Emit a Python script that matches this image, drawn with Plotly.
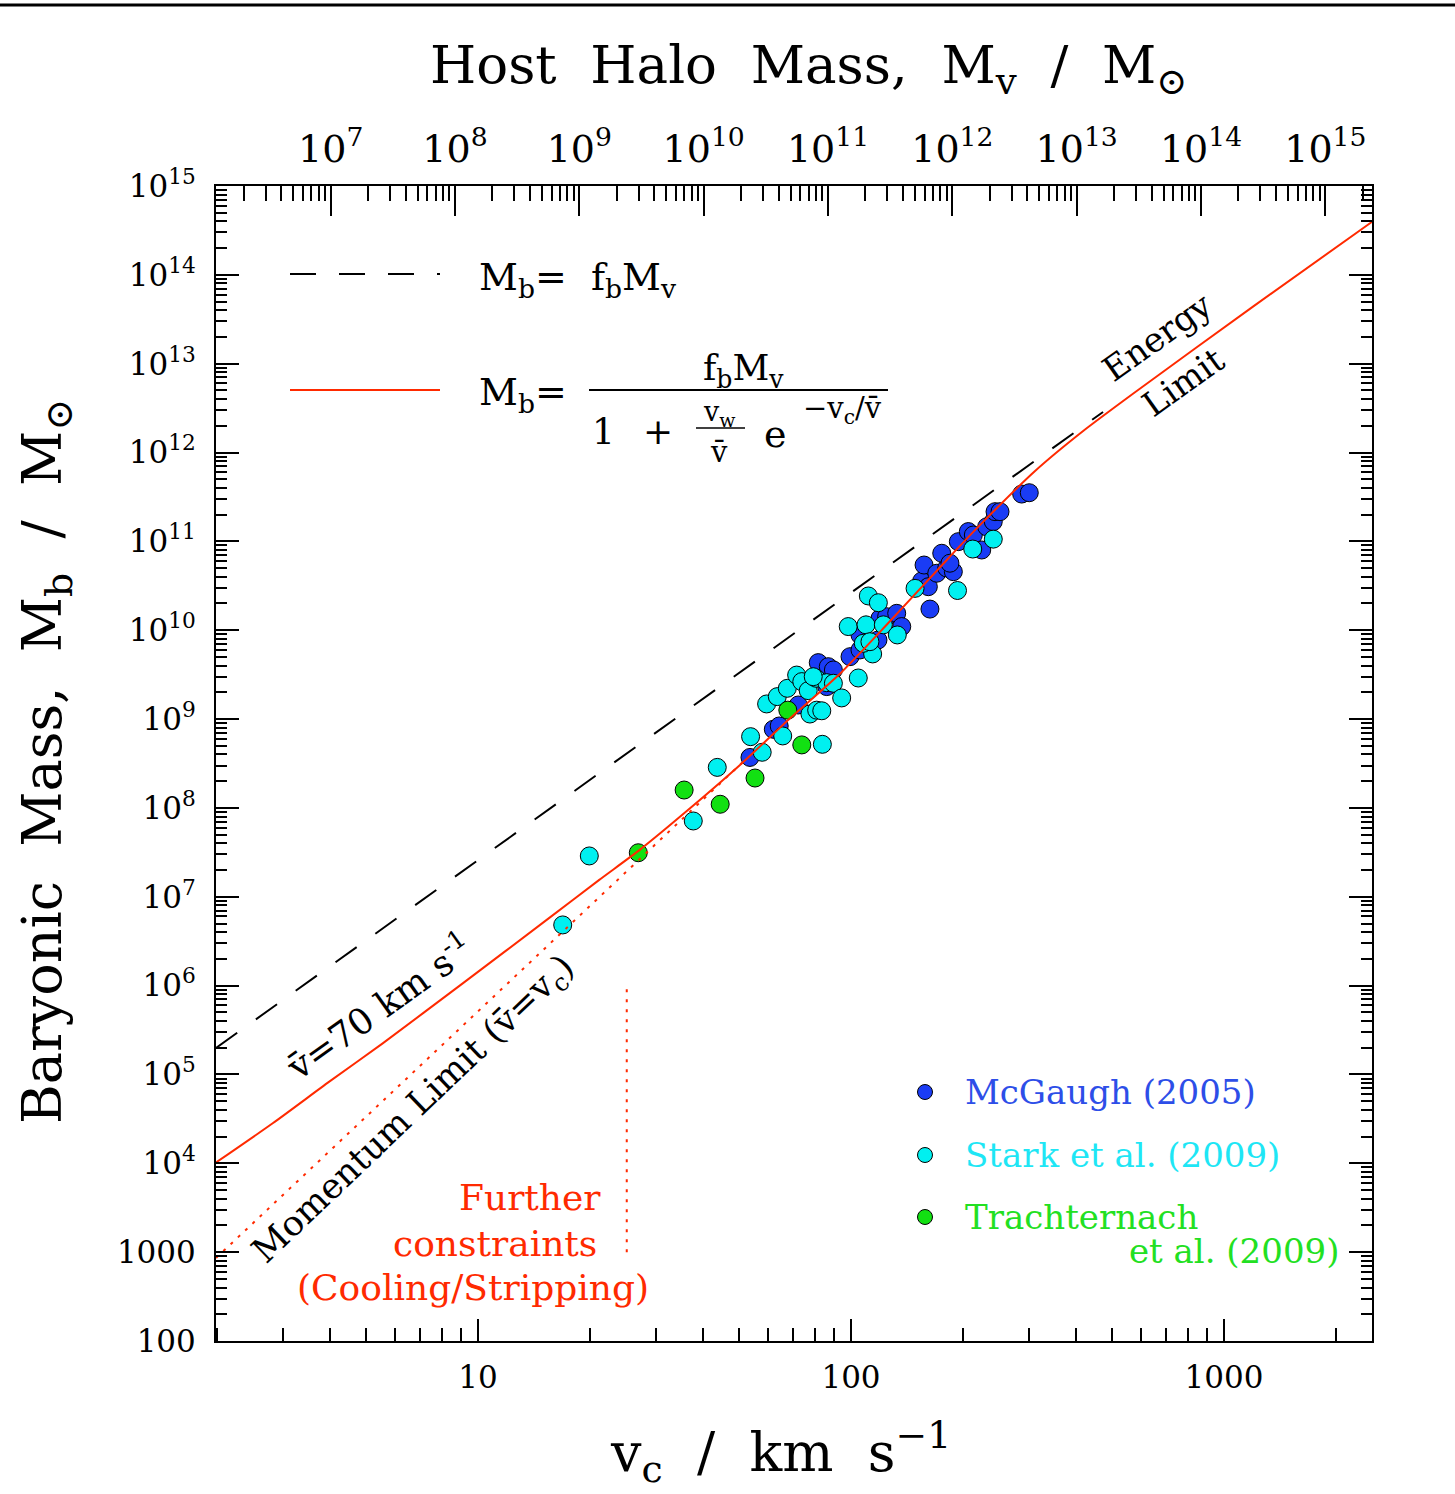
import plotly.graph_objects as go

# ---------------- data ----------------
# McGaugh (2005)
v_mcgaugh = [53.6, 61.9, 64.2, 72.2, 81.7, 86.9, 89.7, 86.1, 99.4, 105.7, 118.1, 105.7,
             119.6, 124.6, 132.6, 136.8, 162.8, 154.7, 161.2, 157.0, 169.8, 180.6, 175.1,
             188.1, 184.2, 194.0, 206.3, 212.8, 224.1, 231.1, 240.7, 243.3, 250.9, 286.8, 300.6]
mb_mcgaugh = [3.70e8, 7.67e8, 8.36e8, 1.44e9, 4.32e9, 3.89e9, 3.57e9, 2.32e9, 5.04e9, 6.00e9,
              7.76e9, 8.85e9, 1.36e10, 1.42e10, 1.55e10, 1.10e10, 1.73e10, 3.58e10, 3.09e10,
              5.42e10, 4.38e10, 5.02e10, 7.35e10, 4.56e10, 5.68e10, 9.93e10, 1.29e11, 1.18e11,
              8.00e10, 1.46e11, 1.67e11, 2.16e11, 2.16e11, 3.41e11, 3.53e11]

# Stark et al. (2009)
v_stark = [16.87, 19.88, 37.77, 43.8, 57.8, 53.8, 65.6, 83.8, 59.4, 63.45, 67.5, 71.5, 73.8,
           76.8, 77.6, 80.9, 83.5, 80.6, 86.1, 89.7, 94.4, 104.6, 114.3, 107.9, 98.3, 109.7,
           112.4, 122.1, 133.1, 111.3, 118.4, 148.5, 193.0, 212.0, 240.7, 79.2]
mb_stark = [4.82e6, 2.88e7, 7.13e7, 2.86e8, 4.23e8, 6.34e8, 6.46e8, 5.20e8, 1.48e9, 1.79e9,
            2.22e9, 3.13e9, 2.64e9, 2.09e9, 1.14e9, 1.26e9, 1.24e9, 2.88e9, 2.57e9, 2.53e9,
            1.73e9, 2.90e9, 5.41e9, 7.13e9, 1.10e10, 1.15e10, 7.43e9, 1.15e10, 8.85e9,
            2.43e10, 2.04e10, 2.96e10, 2.80e10, 8.20e10, 1.06e11, 3.00e9]

# Trachternach et al. (2009)
v_trach = [26.9, 35.7, 44.6, 55.3, 67.7, 73.8]
mb_trach = [3.13e7, 1.59e8, 1.10e8, 2.17e8, 1.26e9, 5.12e8]

# M_b = f_b M_v / (1 + v_w/vbar exp(-v_c/vbar)), vbar = 70 km/s
v_model = [1.985, 2.816, 3.993, 5.553, 9.10, 15.53, 21.14, 27.19, 37.02, 50.4, 68.65, 93.4,
           123.4, 180.6, 217.3, 311.5, 420.0, 571.3, 1198.5, 2495]
mb_model = [1.02e4, 2.82e4, 8.30e4, 2.24e5, 1.06e6, 5.78e6, 1.55e7, 3.39e7, 9.89e7, 3.04e8,
            1.02e9, 3.24e9, 1.10e10, 6.18e10, 1.40e11, 6.20e11, 1.76e12, 4.62e12, 4.42e13,
            3.96e14]

# M_b = f_b M_v (dashed)
v_fb = [1.985, 474.0]
mb_fb = [1.99e5, 2.86e12]

# Momentum limit (vbar = v_c), dotted
v_mom = [1.985, 52.0]
mb_mom = [8.61e2, 3.47e8]

# Further constraints, vertical dotted
v_cut = [25.05, 25.05]
mb_cut = [1.0e3, 9.7e5]

# halo-mass axis: M_v = 10**HALO_LOG_NORM * v_c**3
HALO_LOG_NORM = 5.185
X_LOG_RANGE = [0.2976, 3.3968]
Y_LOG_RANGE = [2, 15]

y_tickvals = [10.0 ** e for e in range(2, 16)]
y_ticktext = ["100", "1000"] + ["10<sup>%d</sup>" % e for e in range(4, 16)]
x_tickvals = [10, 100, 1000]
x_ticktext = ["10", "100", "1000"]
top_tickvals = [10.0 ** e for e in range(7, 16)]
top_ticktext = ["10<sup>%d</sup>" % e for e in range(7, 16)]

# ---------------- styling ----------------
FONT = "DejaVu Serif"
RED = "#ff2a00"
BLUE = "#1a3cf5"
CYAN = "#00f0f0"
GREEN = "#12e012"
W, H = 1455, 1494
L, R, T, B = 216, 83, 186, 153
PW, PH = W - L - R, H - T - B


def xp(px):
    return (px - L) / PW


def yp(py):
    return (H - B - py) / PH


fig = go.Figure()


def scat(v, m, color):
    fig.add_trace(go.Scatter(x=v, y=m, mode="markers", showlegend=False,
                             marker=dict(size=18, color=color,
                                         line=dict(color="black", width=1))))


scat(v_mcgaugh, mb_mcgaugh, BLUE)
scat(v_stark, mb_stark, CYAN)
scat(v_trach, mb_trach, GREEN)

fig.add_trace(go.Scatter(x=v_fb, y=mb_fb, mode="lines", showlegend=False,
                         line=dict(color="black", width=2, dash="26px,23px")))
fig.add_trace(go.Scatter(x=v_mom, y=mb_mom, mode="lines", showlegend=False,
                         line=dict(color=RED, width=2, dash="3px,7px")))
fig.add_trace(go.Scatter(x=v_cut, y=mb_cut, mode="lines", showlegend=False,
                         line=dict(color=RED, width=2, dash="3px,7px")))
fig.add_trace(go.Scatter(x=v_model, y=mb_model, mode="lines", showlegend=False,
                         line=dict(color=RED, width=2, shape="spline", smoothing=0.6)))
# binds the top (halo mass) axis
fig.add_trace(go.Scatter(x=[], y=[], xaxis="x2", showlegend=False))

tick_common = dict(ticks="inside", tickcolor="black", tickwidth=1.5, showline=True,
                   linecolor="black", linewidth=2, showgrid=False, zeroline=False,
                   tickmode="array")

minor_x = [m * 10 ** e for e in range(0, 4) for m in range(2, 10)]
minor_y = [m * 10 ** e for e in range(2, 15) for m in range(2, 10)]
minor_top = [m * 10 ** e for e in range(6, 16) for m in range(2, 10)]

fig.update_layout(
    width=W, height=H, autosize=False,
    margin=dict(l=L, r=R, t=T, b=B),
    paper_bgcolor="white", plot_bgcolor="white",
    font=dict(family=FONT, color="black"),
    xaxis=dict(type="log", range=X_LOG_RANGE, tickvals=x_tickvals, ticktext=x_ticktext,
               ticklen=22, mirror=False, tickfont=dict(size=31), ticklabelstandoff=8,
               minor=dict(ticks="inside", ticklen=13, tickwidth=1.5, tickcolor="black",
                          tickmode="array", tickvals=minor_x, showgrid=False),
               **tick_common),
    xaxis2=dict(type="log", overlaying="x", side="top", anchor="y",
                range=[3 * X_LOG_RANGE[0] + HALO_LOG_NORM, 3 * X_LOG_RANGE[1] + HALO_LOG_NORM],
                tickvals=top_tickvals, ticktext=top_ticktext, ticklen=30,
                tickfont=dict(size=38), ticklabelstandoff=7,
                minor=dict(ticks="inside", ticklen=15, tickwidth=1.5, tickcolor="black",
                           tickmode="array", tickvals=minor_top, showgrid=False),
                **tick_common),
    yaxis=dict(type="log", range=Y_LOG_RANGE, tickvals=y_tickvals, ticktext=y_ticktext,
               ticklen=23, mirror="ticks", tickfont=dict(size=31), ticklabelstandoff=12,
               minor=dict(ticks="inside", ticklen=11, tickwidth=1.5, tickcolor="black",
                          tickmode="array", tickvals=minor_y, showgrid=False),
               **tick_common),
)


def ann(text, x, y, size, angle=0, color="black", xanchor="center", yanchor="middle"):
    fig.add_annotation(text=text, xref="paper", yref="paper", x=xp(x), y=yp(y),
                       showarrow=False, textangle=angle, xanchor=xanchor, yanchor=yanchor,
                       font=dict(family=FONT, size=size, color=color))


NB = "\u00a0"
VBAR = "v\u0304"

# axis titles
ann("Host" + NB * 2 + "Halo" + NB * 2 + "Mass," + NB * 2 + "M<sub>v</sub>" + NB * 2 + "/" + NB * 2 + "M<sub>⊙</sub>",
    808, 68, 53)
ann("Baryonic" + NB * 2 + "Mass," + NB * 2 + "M<sub>b</sub>" + NB * 2 + "/" + NB * 2 + "M<sub>⊙</sub>",
    46, 762, 54, angle=-90)
ann("v<sub>c</sub>" + NB * 2 + "/" + NB * 2 + "km" + NB * 2 + "s<sup>−1</sup>", 780, 1452, 54)

# curve labels
ann("Energy", 1157, 337, 34, angle=-35.5)
ann("Limit", 1183, 382, 34, angle=-35.5)
ann(VBAR + "=70" + NB + "km" + NB + "s<sup>-1</sup>", 378, 1006, 36, angle=-35.5)
ann("Momentum" + NB + "Limit" + NB + "(" + VBAR + "=v<sub>c</sub>)", 414, 1110, 35, angle=-43.6)
ann("Further", 603, 1197, 36, color=RED, xanchor="right")
ann("constraints", 599, 1243, 36, color=RED, xanchor="right")
ann("(Cooling/Stripping)", 473, 1287, 36, color=RED)

# formula legend (top-left)
ann("M<sub>b</sub>=" + NB * 2 + "f<sub>b</sub>M<sub>v</sub>", 477, 280, 38, xanchor="left")
ann("M<sub>b</sub>=", 477, 394, 38, xanchor="left")
ann("f<sub>b</sub>M<sub>v</sub>", 743, 370, 36)
ann("1", 603, 432, 36)
ann("+", 658, 432, 36)
ann("v<sub>w</sub>", 719, 414, 27)
ann(VBAR, 719, 452, 29)
ann("e", 775, 434, 38)
ann("−v<sub>c</sub>/" + VBAR, 842, 410, 29)

shapes = [
    dict(type="line", xref="paper", yref="paper", x0=xp(290), x1=xp(440), y0=yp(274), y1=yp(274),
         line=dict(color="black", width=2, dash="26px,23px")),
    dict(type="line", xref="paper", yref="paper", x0=xp(290), x1=xp(440), y0=yp(390), y1=yp(390),
         line=dict(color=RED, width=2)),
    dict(type="line", xref="paper", yref="paper", x0=xp(589), x1=xp(888), y0=yp(390), y1=yp(390),
         line=dict(color="black", width=2)),
    dict(type="line", xref="paper", yref="paper", x0=xp(696), x1=xp(745), y0=yp(428), y1=yp(428),
         line=dict(color="black", width=1.5)),
    dict(type="line", xref="paper", yref="paper", x0=xp(0), x1=xp(W), y0=yp(5), y1=yp(5),
         line=dict(color="black", width=3)),
]

# data legend (bottom-right)
leg = [("McGaugh" + NB + "(2005)", BLUE, "#2d4ee8", 1092),
       ("Stark" + NB + "et" + NB + "al." + NB + "(2009)", CYAN, "#1ee6f5", 1155),
       ("Trachternach", GREEN, "#22e022", 1217)]
for text, mcol, tcol, yy in leg:
    shapes.append(dict(type="circle", xref="paper", yref="paper",
                       x0=xp(925 - 7.5), x1=xp(925 + 7.5), y0=yp(yy + 7.5), y1=yp(yy - 7.5),
                       fillcolor=mcol, line=dict(color="black", width=1)))
    ann(text, 963, yy, 34, color=tcol, xanchor="left")
ann("et" + NB + "al." + NB + "(2009)", 1341, 1251, 34, color="#22e022", xanchor="right")

fig.update_layout(shapes=shapes)

fig.write_html("out.html")
